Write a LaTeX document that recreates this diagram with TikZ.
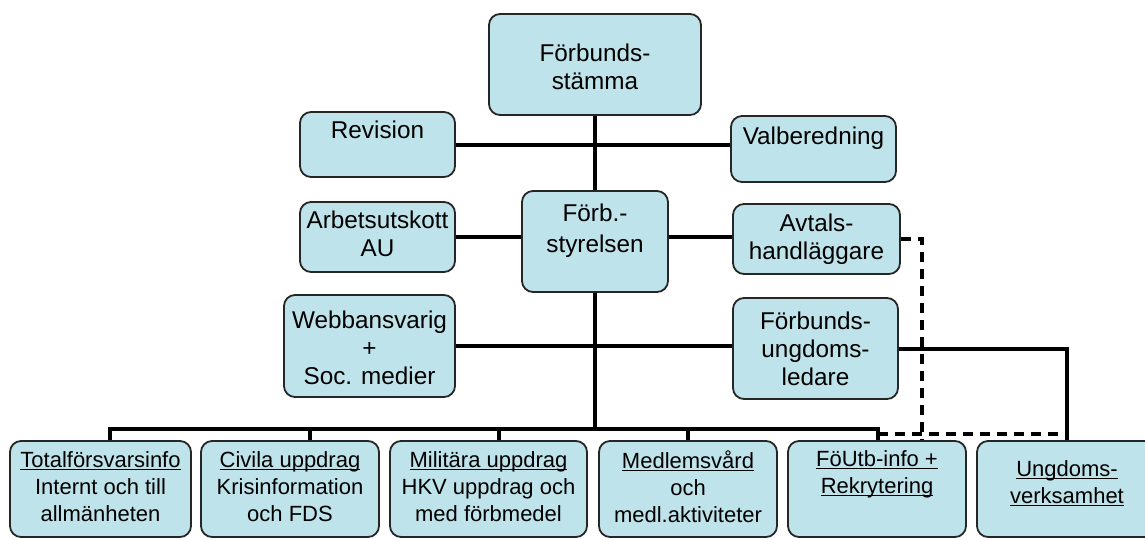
\documentclass[tikz,border=0pt]{standalone}
\usepackage{fontspec}
\setmainfont{Liberation Sans}
\usepackage{xcolor}
\usepackage{tikz}
\usetikzlibrary{positioning, calc}
\definecolor{boxblue}{RGB}{191,227,234}
\tikzset{orgbox/.style={draw=black!85, line width=1.8pt, rounded corners=11pt, fill=boxblue, inner sep=0pt},
  toptext/.style={anchor=north, align=center, inner sep=0pt, font=\fontsize{24.3}{28}\selectfont},
  lowtext/.style={anchor=north, align=center, inner sep=0pt, font=\fontsize{22}{27}\selectfont},
  conn/.style={line width=4pt},
  dashconn/.style={line width=3.5pt, dash pattern=on 10pt off 7pt}}
\newcommand{\undl}[1]{\setbox0\hbox{#1}\rlap{\rule[-2.6pt]{\wd0}{1.1pt}}\box0}
\newcommand{\orgbox}[6]{\node[orgbox, minimum width=#4pt, minimum height=#5pt] (#1) at (#2,#3) {};}

\begin{document}
\begin{tikzpicture}[x=1pt, y=-1pt]
\useasboundingbox (0,0) rectangle (1145,539);
% boxes, top part
\orgbox{stamma}{595}{64.5}{212}{101}{}
\orgbox{rev}{377.5}{144.5}{155}{65}{}
\orgbox{valb}{813.5}{149}{165}{66}{}
\orgbox{styr}{595}{241.5}{146}{101}{}
\orgbox{au}{377.5}{237}{155}{70}{}
\orgbox{avtal}{816.5}{239}{167}{70}{}
\orgbox{webb}{369.5}{346}{171}{102}{}
\orgbox{fungd}{815.5}{348.5}{165}{101}{}
% bottom row
\orgbox{tot}{100.5}{489}{181}{96}{}
\orgbox{civ}{290}{489}{178}{96}{}
\orgbox{mil}{488.5}{489}{197}{96}{}
\orgbox{med}{688}{489}{178}{96}{}
\orgbox{fout}{877}{489}{178}{96}{}
\orgbox{ungd}{1067}{489}{180}{96}{}
% texts
\node[toptext, below=31pt of stamma.north] (stamma-t) {Förbunds-\\stämma};
\node[toptext, below=10pt of rev.north] (rev-t) {Revision};
\node[toptext, below=12pt of valb.north] (valb-t) {Valberedning};
\node[toptext, below=14pt of styr.north, font=\fontsize{24.3}{31}\selectfont] (styr-t) {Förb.-\\styrelsen};
\node[toptext, below=10pt of au.north] (au-t) {Arbetsutskott\\AU};
\node[toptext, below=11pt of avtal.north] (avtal-t) {Avtals-\\handläggare};
\node[toptext, below=17pt of webb.north] (webb-t) {Webbansvarig\\+\\Soc. medier};
\node[toptext, below=15pt of fungd.north] (fungd-t) {Förbunds-\\ungdoms-\\ledare};
\node[lowtext, below=11pt of tot.north] (tot-t) {\undl{Totalförsvarsinfo}\\Internt och till\\allmänheten};
\node[lowtext, below=11pt of civ.north] (civ-t) {\undl{Civila uppdrag}\\Krisinformation\\och FDS};
\node[lowtext, below=11pt of mil.north] (mil-t) {\undl{Militära uppdrag}\\HKV uppdrag och\\med förbmedel};
\node[lowtext, below=10pt of med.north] (med-t) {\undl{Medlemsvård}\\och\\medl.aktiviteter};
\node[lowtext, below=10pt of fout.north] (fout-t) {\undl{FöUtb-info +}\\\undl{Rekrytering}};
\node[lowtext, below=20pt of ungd.north] (ungd-t) {\undl{Ungdoms-}\\\undl{verksamhet}};
% connectors
\coordinate (bus) at (595,429);
\coordinate (dashrow) at (0,434);
\draw[conn] (stamma.south) -- (stamma.south |- styr.north);
\draw[conn] (rev.east) -- (rev.east -| valb.west);
\draw[conn] (au.east) -- (au.east -| styr.west);
\draw[conn] (styr.east |- au.east) -- (au.east -| avtal.west);
\draw[conn] (webb.east) -- (webb.east -| fungd.west);
\draw[conn] (styr.south) -- (bus);
\foreach \n/\dx in {tot/9,civ/20,mil/10,med/0,fout/1}
  \draw[conn] ([xshift=\dx pt]\n.north) |- (bus);
\draw[conn] (fungd.east) -| (ungd.north);
\draw[dashconn] (avtal.east) -| ([xshift=45pt]fout.north);
\draw[dashconn] ([xshift=1pt]fout.north |- dashrow) -- (ungd.north |- dashrow);
\end{tikzpicture}
\end{document}
